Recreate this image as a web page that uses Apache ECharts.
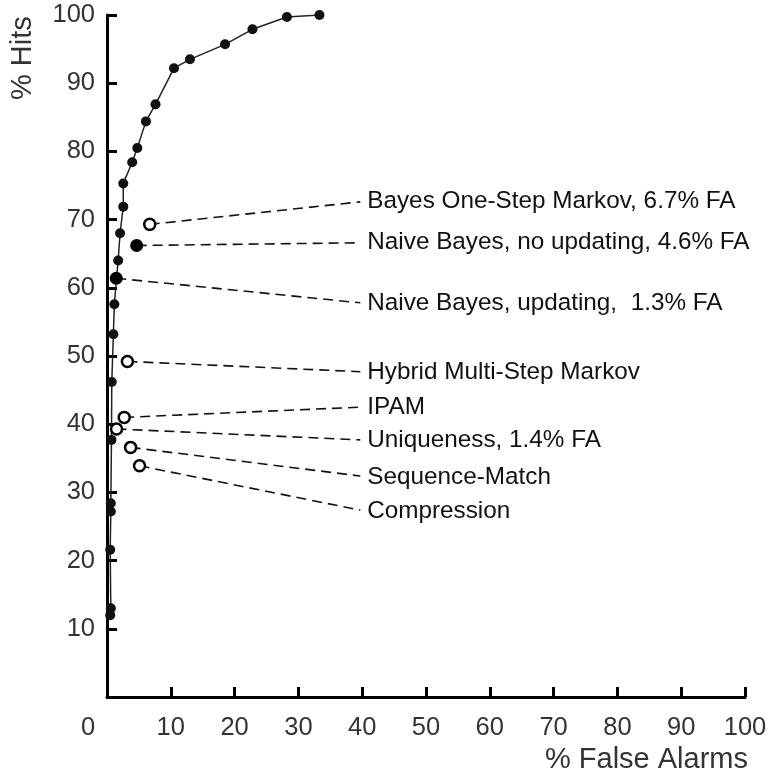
<!DOCTYPE html>
<html>
<head>
<meta charset="utf-8">
<script src="https://cdn.jsdelivr.net/npm/echarts@6/dist/echarts.min.js"></script>
<style>html,body{margin:0;padding:0;background:#fff}#c{width:780px;height:776px}</style>
</head>
<body>
<div id="c"></div>
<script>
// Main ROC curve (% False Alarms, % Hits)
const curveX = [0.5, 0.6, 0.5, 0.6, 0.6, 0.7, 0.75, 1.0, 1.15, 1.5, 1.75, 2.05, 2.55, 2.55, 3.95, 4.75, 6.1, 7.6, 10.5, 13.0, 18.5, 22.8, 28.2, 33.3];
const curveY = [12, 13, 21.6, 27.2, 28.4, 37.7, 46.2, 53.2, 57.6, 61.4, 64, 68, 71.9, 75.3, 78.4, 80.5, 84.4, 86.9, 92.2, 93.5, 95.7, 97.9, 99.7, 100];

// Other methods (single operating points)
const methodNames = ['Bayes One-Step Markov, 6.7% FA', 'Naive Bayes, no updating, 4.6% FA', 'Naive Bayes, updating,  1.3% FA', 'Hybrid Multi-Step Markov', 'IPAM', 'Uniqueness, 1.4% FA', 'Sequence-Match', 'Compression'];
const methodX = [6.7, 4.65, 1.45, 3.2, 2.7, 1.5, 3.7, 5.1];
const methodY = [69.3, 66.2, 61.4, 49.2, 41.0, 39.3, 36.6, 33.9];
const methodFilled = [false, true, true, false, false, false, false, false];
// where each leader line ends (label anchor), in data units
const labelX = 39.7;
const labelY = [72.6, 66.6, 57.8, 47.7, 42.5, 37.7, 32.4, 27.4];

const xTicks = [0, 10, 20, 30, 40, 50, 60, 70, 80, 90, 100];
const yTicks = [0, 10, 20, 30, 40, 50, 60, 70, 80, 90, 100];

const FONT = 'Arial, "Liberation Sans", sans-serif';
const chart = echarts.init(document.getElementById('c'), null, {renderer: 'canvas'});

const openData = [], filledData = [];
methodX.forEach((x, i) => {
  (methodFilled[i] ? filledData : openData).push([x, methodY[i]]);
});
const leaderLines = methodX.map((x, i) => [
  {coord: [x, methodY[i]], name: methodNames[i]},
  {coord: [labelX, labelY[i]]}
]);

chart.setOption({
  animation: false,
  backgroundColor: '#fff',
  grid: {left: 107, right: 35, top: 15, bottom: 79},
  xAxis: {
    type: 'value', min: xTicks[0], max: xTicks[xTicks.length - 1], interval: 10,
    splitLine: {show: false},
    axisLine: {lineStyle: {color: '#000', width: 3}},
    axisTick: {inside: true, length: 10, lineStyle: {color: '#000', width: 3}},
    axisLabel: {
      margin: 18, color: '#333', fontSize: 25.5, fontFamily: FONT,
      formatter: v => v === 0 ? '{z|0}' : String(v),
      rich: {z: {fontSize: 25.5, fontFamily: FONT, color: '#333', padding: [0, 38, 0, 0]}}
    },
    name: '% False Alarms', nameLocation: 'end', nameGap: 3,
    nameTextStyle: {align: 'right', verticalAlign: 'top', padding: [48, 0, 0, 0], fontSize: 29, fontFamily: FONT, color: '#333'}
  },
  yAxis: {
    type: 'value', min: yTicks[0], max: yTicks[yTicks.length - 1], interval: 10,
    splitLine: {show: false},
    axisLine: {lineStyle: {color: '#000', width: 3}},
    axisTick: {inside: true, length: 10, lineStyle: {color: '#000', width: 3}},
    axisLabel: {margin: 12, color: '#333', fontSize: 25.5, fontFamily: FONT, formatter: v => v === 0 ? '' : String(v)}
  },
  graphic: [{
    type: 'text', x: 23, y: 100, rotation: Math.PI / 2,
    style: {text: '% Hits', fill: '#333', font: '29px ' + FONT, textAlign: 'left', textVerticalAlign: 'middle'}
  }],
  series: [
    {
      type: 'line', z: 2,
      data: curveX.map((x, i) => [x, curveY[i]]),
      symbol: 'circle', symbolSize: 10, showSymbol: true,
      itemStyle: {color: '#111', opacity: 1},
      lineStyle: {color: '#222', width: 1.5},
      markLine: {
        silent: true, symbol: ['none', 'none'], animation: false,
        lineStyle: {color: '#111', width: 1.6, type: [10, 6]},
        label: {show: true, position: 'end', distance: 7, formatter: '{b}', color: '#111', fontSize: 24.3, fontFamily: FONT},
        data: leaderLines
      }
    },
    {
      type: 'scatter', z: 5, data: openData, symbol: 'circle', symbolSize: 11,
      itemStyle: {color: '#fff', borderColor: '#000', borderWidth: 2.5, opacity: 1}
    },
    {
      type: 'scatter', z: 5, data: filledData, symbol: 'circle', symbolSize: 13,
      itemStyle: {color: '#000', opacity: 1}
    }
  ]
});
</script>
</body>
</html>
